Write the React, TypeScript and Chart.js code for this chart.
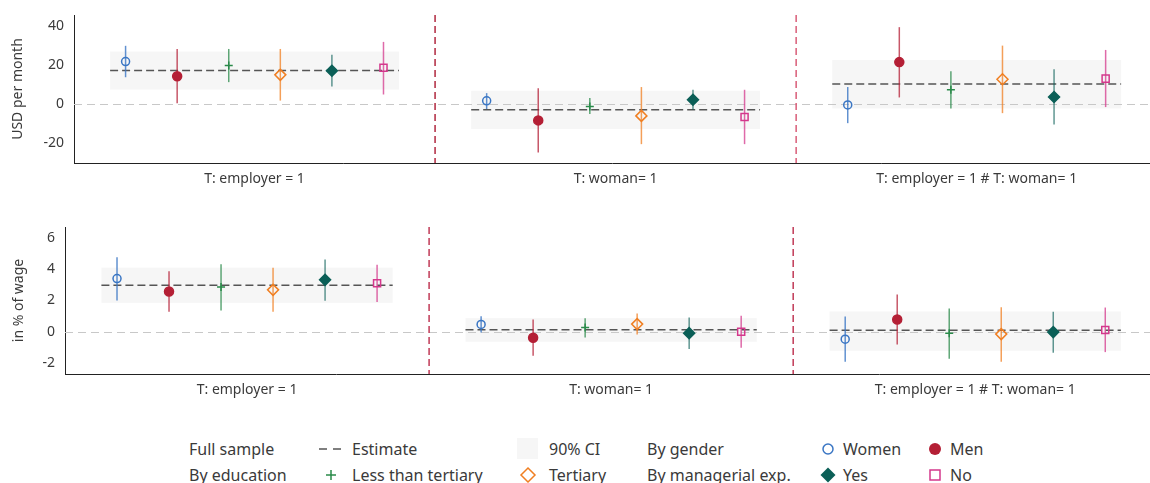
import React, { useEffect, useRef } from "react";
import { Chart, registerables } from "chart.js";

Chart.register(...registerables);

// ---------- DATA ----------
type Triple = [number, number, number]; // [estimate, ci low, ci high]

const groupLabels = ["T: employer = 1", "T: woman= 1", "T: employer = 1 # T: woman= 1"];
const seriesNames = ["Women", "Men", "Less than tertiary", "Tertiary", "Yes", "No"];

// Panel 1: USD per month
const usdTicks = [-20, 0, 20, 40];
const usdEstimate: Triple[] = [[17.1, 7.4, 26.8], [-2.9, -12.7, 6.8], [10.2, -2.2, 22.5]];
const usdWomen: Triple[] = [[21.7, 13.7, 29.7], [1.7, -2.5, 5.6], [-0.4, -9.7, 8.7]];
const usdMen: Triple[] = [[14.2, 0.5, 28.1], [-8.3, -24.6, 8.1], [21.4, 3.4, 39.2]];
const usdLess: Triple[] = [[19.7, 11.2, 28.1], [-1.2, -5.1, 3.1], [7.3, -2.2, 16.8]];
const usdTertiary: Triple[] = [[14.9, 1.8, 28.1], [-6.0, -20.4, 8.7], [12.7, -4.6, 29.8]];
const usdYes: Triple[] = [[17.0, 9.0, 25.1], [2.2, -2.9, 7.3], [3.6, -10.4, 17.8]];
const usdNo: Triple[] = [[18.5, 4.9, 31.7], [-6.6, -20.4, 7.3], [13.0, -1.5, 27.6]];

// Panel 2: in % of wage
const pctTicks = [-2, 0, 2, 4, 6];
const pctEstimate: Triple[] = [[2.98, 1.85, 4.1], [0.13, -0.64, 0.87], [0.09, -1.21, 1.3]];
const pctWomen: Triple[] = [[3.4, 2.0, 4.77], [0.47, -0.04, 1.0], [-0.47, -1.91, 0.98]];
const pctMen: Triple[] = [[2.57, 1.28, 3.87], [-0.38, -1.53, 0.79], [0.79, -0.81, 2.38]];
const pctLess: Triple[] = [[2.87, 1.36, 4.32], [0.28, -0.36, 0.87], [-0.09, -1.72, 1.49]];
const pctTertiary: Triple[] = [[2.68, 1.28, 4.09], [0.49, -0.17, 1.17], [-0.15, -1.91, 1.57]];
const pctYes: Triple[] = [[3.32, 1.98, 4.62], [-0.09, -1.1, 0.91], [-0.02, -1.34, 1.28]];
const pctNo: Triple[] = [[3.1, 1.91, 4.28], [0.0, -1.02, 1.02], [0.11, -1.3, 1.55]];

// ---------- STYLE ----------
const FONT = "'Noto Sans', 'DejaVu Sans', sans-serif";
const TEXT = "#3a3a3a";
const X_MAX = 2.98;
const OFFSET_STEP = 1 / 7;
const BAND_HALF = 0.4;

const seriesStyles = [
  { color: "#3a76c4", err: "rgba(58,118,196,0.8)", style: "circle", radius: 4, fill: false },
  { color: "#b41f35", err: "rgba(180,31,53,0.75)", style: "circle", radius: 4.5, fill: true },
  { color: "#2a8a4a", err: "rgba(42,138,74,0.75)", style: "cross", radius: 4, fill: false },
  { color: "#f07f22", err: "rgba(240,127,34,0.75)", style: "rectRot", radius: 5.5, fill: false },
  { color: "#0b5f57", err: "rgba(11,95,87,0.65)", style: "rectRot", radius: 5.5, fill: true },
  { color: "#d4388c", err: "rgba(212,56,140,0.75)", style: "rect", radius: 5, fill: false },
];

type PanelCfg = {
  top: number;
  height: number;
  padTop: number;
  axisWidth: number;
  xAxisHeight: number;
  yMin: number;
  yMax: number;
  ticks: number[];
  title: string;
  titlePad: number;
  estimate: Triple[];
  series: Triple[][];
  dividers: string[];
};

const decorPlugin = {
  id: "decor",
  beforeDatasetsDraw(chart: any, _a: any, opts: any) {
    const { ctx, chartArea } = chart;
    const x = chart.scales.x;
    const y = chart.scales.y;
    ctx.save();
    ctx.fillStyle = "#f6f6f6";
    (opts.estimate as Triple[]).forEach((t, g) => {
      const x0 = x.getPixelForValue(g + 0.5 - BAND_HALF);
      const x1 = x.getPixelForValue(g + 0.5 + BAND_HALF);
      const yt = y.getPixelForValue(t[2]);
      const yb = y.getPixelForValue(t[1]);
      ctx.fillRect(x0, yt, x1 - x0, yb - yt);
    });
    ctx.strokeStyle = "#c8c8c8";
    ctx.lineWidth = 1;
    ctx.setLineDash([8, 5]);
    const y0 = Math.round(y.getPixelForValue(0)) + 0.5;
    ctx.beginPath();
    ctx.moveTo(chartArea.left, y0);
    ctx.lineTo(chartArea.right, y0);
    ctx.stroke();
    ctx.setLineDash([7, 4]);
    ctx.lineWidth = 1.5;
    for (let g = 1; g < groupLabels.length; g++) {
      const xp = x.getPixelForValue(g);
      ctx.strokeStyle = opts.dividers[g - 1];
      ctx.beginPath();
      ctx.moveTo(xp, chartArea.top);
      ctx.lineTo(xp, chartArea.bottom);
      ctx.stroke();
    }
    ctx.restore();
  },
  beforeDatasetDraw(chart: any, args: any) {
    const ds = chart.data.datasets[args.index];
    if (!ds.errColor) return;
    const { ctx } = chart;
    const x = chart.scales.x;
    const y = chart.scales.y;
    ctx.save();
    ctx.strokeStyle = ds.errColor;
    ctx.lineWidth = 1.5;
    ctx.setLineDash([]);
    ds.data.forEach((p: any) => {
      const xp = x.getPixelForValue(p.x);
      ctx.beginPath();
      ctx.moveTo(xp, y.getPixelForValue(p.hi));
      ctx.lineTo(xp, y.getPixelForValue(p.lo));
      ctx.stroke();
    });
    ctx.restore();
  },
};

function buildConfig(cfg: PanelCfg): any {
  const scatterSets = cfg.series.map((s, i) => {
    const st = seriesStyles[i];
    return {
      type: "scatter",
      label: seriesNames[i],
      data: s.map((t, g) => ({ x: g + 0.5 + (i - 2.5) * OFFSET_STEP, y: t[0], lo: t[1], hi: t[2] })),
      errColor: st.err,
      pointStyle: st.style,
      pointRadius: st.radius,
      pointBorderWidth: 1.5,
      pointBorderColor: st.color,
      pointBackgroundColor: st.fill ? st.color : "rgba(0,0,0,0)",
      showLine: false,
    };
  });
  const estData: any[] = [];
  cfg.estimate.forEach((t, g) => {
    estData.push({ x: g + 0.5 - BAND_HALF, y: t[0] });
    estData.push({ x: g + 0.5 + BAND_HALF, y: t[0] });
    estData.push({ x: g + 0.5 + BAND_HALF + 0.01, y: null });
  });
  const estSet = {
    type: "line",
    label: "Estimate",
    data: estData,
    borderColor: "#555555",
    borderWidth: 1.5,
    borderDash: [8, 4],
    pointRadius: 0,
    spanGaps: false,
    fill: false,
  };
  const font = { family: FONT, size: 14 };
  return {
    type: "scatter",
    data: { datasets: [...scatterSets, estSet] },
    options: {
      responsive: false,
      animation: false,
      events: [],
      layout: { autoPadding: false, padding: { top: cfg.padTop, left: 0, right: 0, bottom: 0 } },
      plugins: {
        legend: { display: false },
        tooltip: { enabled: false },
        decor: { estimate: cfg.estimate, dividers: cfg.dividers },
      },
      scales: {
        x: {
          type: "linear",
          min: 0,
          max: X_MAX,
          grid: { display: false, drawTicks: false },
          border: { display: true, color: "#222222", width: 1 },
          ticks: {
            font,
            color: TEXT,
            padding: 8,
            autoSkip: false,
            maxRotation: 0,
            callback: (_v: any, idx: number) => groupLabels[idx],
          },
          afterBuildTicks: (s: any) => {
            s.ticks = groupLabels.map((_l, i) => ({ value: i + 0.5 }));
          },
          afterFit: (s: any) => {
            s.height = cfg.xAxisHeight;
            s.paddingLeft = 0;
            s.paddingRight = 0;
          },
        },
        y: {
          type: "linear",
          min: cfg.yMin,
          max: cfg.yMax,
          grid: { display: false, drawTicks: false },
          border: { display: true, color: "#222222", width: 1 },
          ticks: { font, color: TEXT, padding: 10 },
          afterBuildTicks: (s: any) => {
            s.ticks = cfg.ticks.map((v) => ({ value: v }));
          },
          title: {
            display: true,
            text: cfg.title,
            font,
            color: TEXT,
            padding: { top: cfg.titlePad, bottom: 0 },
          },
          afterFit: (s: any) => {
            s.width = cfg.axisWidth;
            s.paddingTop = 0;
            s.paddingBottom = 0;
          },
        },
      },
    },
    plugins: [decorPlugin],
  };
}

function Panel({ cfg }: { cfg: PanelCfg }) {
  const ref = useRef<HTMLCanvasElement | null>(null);
  useEffect(() => {
    if (!ref.current) return;
    const chart = new Chart(ref.current, buildConfig(cfg));
    return () => chart.destroy();
  }, []);
  return (
    <canvas
      ref={ref}
      width={1150}
      height={cfg.height}
      style={{ position: "absolute", left: 0, top: cfg.top, width: 1150, height: cfg.height }}
    />
  );
}

const topCfg: PanelCfg = {
  top: 0,
  height: 200,
  padTop: 15,
  axisWidth: 74,
  xAxisHeight: 37,
  yMin: -30,
  yMax: 45.4,
  ticks: usdTicks,
  title: "USD per month",
  titlePad: 10,
  estimate: usdEstimate,
  series: [usdWomen, usdMen, usdLess, usdTertiary, usdYes, usdNo],
  dividers: ["#b0283f", "#d95d78"],
};

const bottomCfg: PanelCfg = {
  top: 200,
  height: 210,
  padTop: 27,
  axisWidth: 65,
  xAxisHeight: 36,
  yMin: -2.7,
  yMax: 6.7,
  ticks: pctTicks,
  title: "in % of wage",
  titlePad: 11,
  estimate: pctEstimate,
  series: [pctWomen, pctMen, pctLess, pctTertiary, pctYes, pctNo],
  dividers: ["#c13a57", "#c13a57"],
};

function LegendText({ x, y, text }: { x: number; y: number; text: string }) {
  return (
    <span
      style={{
        position: "absolute",
        left: x,
        top: y - 11,
        height: 22,
        lineHeight: "22px",
        fontFamily: FONT,
        fontSize: 16,
        color: TEXT,
        whiteSpace: "nowrap",
      }}
    >
      {text}
    </span>
  );
}

function Sym({ cx, cy, children }: { cx: number; cy: number; children: any }) {
  return (
    <svg
      width={24}
      height={24}
      viewBox="-12 -12 24 24"
      style={{ position: "absolute", left: cx - 12, top: cy - 12, overflow: "visible" }}
    >
      {children}
    </svg>
  );
}

function Legend() {
  const r1 = 449;
  const r2 = 475;
  return (
    <>
      <LegendText x={189} y={r1} text="Full sample" />
      <LegendText x={189} y={r2} text="By education" />
      <Sym cx={331} cy={r1}>
        <line x1={-12} y1={0} x2={12} y2={0} stroke="#555" strokeWidth={1.3} strokeDasharray="8 6" />
      </Sym>
      <LegendText x={352} y={r1} text="Estimate" />
      <Sym cx={331} cy={r2}>
        <path d="M-5 0 H5 M0 -5 V5" stroke={seriesStyles[2].color} strokeWidth={1.5} />
      </Sym>
      <LegendText x={352} y={r2} text="Less than tertiary" />
      <div style={{ position: "absolute", left: 517, top: 438, width: 21, height: 21, background: "#f6f6f6" }} />
      <LegendText x={549} y={r1} text="90% CI" />
      <Sym cx={528} cy={r2}>
        <path d="M0 -7 L7 0 L0 7 L-7 0 Z" fill="none" stroke={seriesStyles[3].color} strokeWidth={1.5} />
      </Sym>
      <LegendText x={549} y={r2} text="Tertiary" />
      <LegendText x={647} y={r1} text="By gender" />
      <LegendText x={647} y={r2} text="By managerial exp." />
      <Sym cx={828} cy={r1}>
        <circle r={5} fill="none" stroke={seriesStyles[0].color} strokeWidth={1.5} />
      </Sym>
      <LegendText x={843} y={r1} text="Women" />
      <Sym cx={828} cy={r2}>
        <path d="M0 -7.5 L7.5 0 L0 7.5 L-7.5 0 Z" fill={seriesStyles[4].color} />
      </Sym>
      <LegendText x={843} y={r2} text="Yes" />
      <Sym cx={935} cy={r1}>
        <circle r={6} fill={seriesStyles[1].color} />
      </Sym>
      <LegendText x={950} y={r1} text="Men" />
      <Sym cx={935} cy={r2}>
        <rect x={-5} y={-5} width={10} height={10} fill="none" stroke={seriesStyles[5].color} strokeWidth={1.5} />
      </Sym>
      <LegendText x={950} y={r2} text="No" />
    </>
  );
}

export default function App() {
  return (
    <div
      style={{
        position: "absolute",
        left: 0,
        top: 0,
        width: 1150,
        height: 483,
        overflow: "hidden",
        background: "#ffffff",
      }}
    >
      <Panel cfg={topCfg} />
      <Panel cfg={bottomCfg} />
      <Legend />
    </div>
  );
}
